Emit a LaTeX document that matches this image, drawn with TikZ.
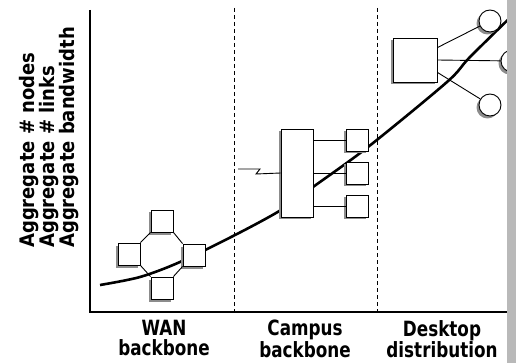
\documentclass[tikz,border=0pt]{standalone}
\usepackage{fontspec}
\newfontfamily\labelfont[FakeStretch=0.8]{DejaVu Sans}
\newfontfamily\sidefont[FakeStretch=0.9]{DejaVu Sans}
\usetikzlibrary{backgrounds}

\begin{document}
\begin{tikzpicture}[x=1pt, y=-1pt,
		box/.style={draw, fill=white, inner sep=0pt, minimum size=22pt, line width=0.9pt, preaction={fill=black!45, draw=none, transform canvas={xshift=-2.5pt, yshift=-2.5pt}}},
		hub/.style={box, minimum width=32pt, minimum height=88pt},
		host/.style={box, circle, minimum size=22pt},
		link/.style={line width=0.9pt},
		axis/.style={line width=1.3pt},
		divider/.style={dash pattern=on 4pt off 3pt, line width=1pt},
		growth/.style={line width=2.6pt},
		caption/.style={font=\labelfont\bfseries\fontsize{21}{20}\selectfont, align=center, inner sep=0pt, anchor=north}
		]
		\useasboundingbox (0,0) rectangle (516,363);
		
		% ----- Axes -----
		\coordinate (origin) at (90,312);
		\coordinate (ytop) at (90,10);
		\coordinate (xend) at (507,312);
		\draw[axis] (ytop) -- (origin) -- (xend);
		\node[font=\sidefont\bfseries\fontsize{20}{20}\selectfont, rotate=90, anchor=north west, align=left, inner sep=0pt] (ylabel) at (19,248) {Aggregate \# nodes\\Aggregate \# links\\Aggregate bandwidth};
		
		% Dividers
		\coordinate (d1top) at (234,8); \coordinate (d1bot) at (234,312);
		\coordinate (d2top) at (377,8); \coordinate (d2bot) at (377,312);
		\draw[divider] (d1top) -- (d1bot);
		\draw[divider] (d2top) -- (d2bot);
		
		% Captions
		\node[caption] (wan) at (164,320) {WAN\\backbone};
		\node[caption] (campus) at (305,320) {Campus\\backbone};
		\node[caption] (desktop) at (442,320) {Desktop\\distribution};
		
		% ----- WAN backbone -----
		\node[box] (wt) at (162,221) {};
		\node[box] (wl) at (129,254) {};
		\node[box] (wr) at (194,255) {};
		\node[box] (wb) at (162,288) {};
		\draw[link] (wt.south west) -- (wl.north east);
		\draw[link] (wl.south east) -- (wb.north west);
		\draw[link] (wb.north east) -- (wr.south west);
		\draw[link] (wr.north west) -- (wt.south east);
		
		% ----- Campus backbone -----
		\node[hub] (chub) at (297,173) {};
		\node[box] (cs1) at (357,140) {};
		\node[box] (cs2) at (357,173) {};
		\node[box] (cs3) at (357,206) {};
		\draw[link] (chub.east |- cs1) -- (cs1);
		\draw[link] (chub.east |- cs2) -- (cs2);
		\draw[link] (chub.east |- cs3) -- (cs3);
		\coordinate (wanin) at (238,169);
		\draw[link] (wanin) -- ++(22,0) -- ++(-4,5) -- (chub.west);
		
		% ----- Desktop distribution -----
		\node[box, minimum size=44pt] (dsw) at (415,60) {};
		\node[host] (h1) at (490,21) {};
		\node[host] (h2) at (512,61) {};
		\node[host] (h3) at (490,105) {};
		\draw[link] (dsw.29) -- (h1);
		\draw[link] (dsw.east) -- (h2);
		\draw[link] (dsw.-29) -- (h3);
		
		% Growth curve
		\begin{scope}[on background layer]
			\draw[growth] plot[smooth] coordinates {(100,285) (140,277) (180,262) (237,234) (281,210) (313,187) (368,147) (447,82) (470,57) (520,8)};
		\end{scope}
		
		% Edge band
		\fill[gray!55] (507,0) rectangle (516,363);
		
	\end{tikzpicture}
\end{document}
